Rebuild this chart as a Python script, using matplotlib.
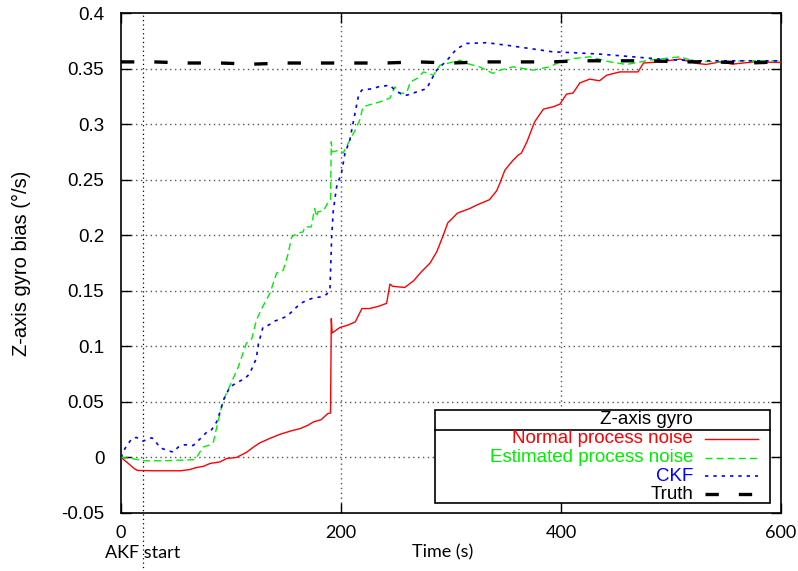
import numpy as np
import matplotlib
matplotlib.use("Agg")
import matplotlib.pyplot as plt
from matplotlib.patches import Rectangle

# --- data (time in s, bias in deg/s) ---
t_normal = [0, 5, 12, 15, 30, 54, 62, 69, 75, 81, 90, 96, 105, 114, 120, 126, 135,
            145, 155, 163, 170, 175, 182, 188, 190.5, 191.2, 192, 199, 206, 213, 219,
            226, 234, 241.5, 244.5, 247, 258, 266, 273, 281, 287, 293, 297, 306, 317,
            323, 335, 341.5, 344.5, 349, 356.5, 361, 364, 369, 376, 384, 393, 399, 405,
            411, 417, 426, 435, 441.5, 453.6, 470, 475, 490, 508, 523, 532, 544.5, 556,
            575, 600]
v_normal = [0, -0.004, -0.010, -0.0117, -0.012, -0.012, -0.011, -0.009, -0.008, -0.0054,
            -0.004, -0.001, 0.0, 0.0045, 0.009, 0.013, 0.017, 0.021, 0.024, 0.026, 0.029,
            0.032, 0.034, 0.0395, 0.040, 0.125, 0.112, 0.117, 0.119, 0.122, 0.134, 0.134,
            0.136, 0.1387, 0.156, 0.154, 0.153, 0.159, 0.167, 0.175, 0.185, 0.200, 0.211,
            0.220, 0.224, 0.227, 0.232, 0.240, 0.247, 0.2586, 0.2676, 0.272, 0.274, 0.284,
            0.302, 0.3135, 0.3156, 0.318, 0.327, 0.328, 0.337, 0.3405, 0.339, 0.344, 0.347,
            0.347, 0.355, 0.356, 0.3586, 0.3547, 0.3537, 0.356, 0.354, 0.356, 0.3555]

t_est = [0, 10, 20, 40, 67, 70, 74.5, 80, 84, 87, 93, 100.6, 106.6, 114, 119, 123, 128,
         135.5, 141.5, 147.5, 152, 155, 159.7, 165.5, 167, 173, 176, 178, 179, 184, 188.5,
         190.5, 191.2, 192, 199, 202, 208, 213, 217, 220, 228, 235.5, 244.5, 249, 254, 260,
         263, 269, 275, 284, 290, 298, 308, 314, 326, 338, 344.5, 356.5, 374.5, 390, 399,
         411, 426, 444.5, 459.7, 481, 508, 520, 541.5, 566, 600]
v_est = [0, -0.001, -0.003, -0.003, -0.002, 0.002, 0.0093, 0.011, 0.0138, 0.027, 0.0514,
         0.068, 0.0813, 0.1027, 0.107, 0.1234, 0.134, 0.148, 0.166, 0.1685, 0.1835, 0.198,
         0.2017, 0.203, 0.2075, 0.2075, 0.224, 0.2165, 0.221, 0.222, 0.230, 0.232, 0.284,
         0.275, 0.2766, 0.274, 0.2856, 0.2946, 0.3036, 0.3156, 0.318, 0.320, 0.3234, 0.3336,
         0.327, 0.329, 0.338, 0.341, 0.347, 0.344, 0.353, 0.355, 0.3576, 0.3547, 0.3516,
         0.3457, 0.3486, 0.3516, 0.3486, 0.3516, 0.356, 0.359, 0.3606, 0.356, 0.3537,
         0.3576, 0.3606, 0.357, 0.356, 0.357, 0.357]

t_ckf = [0, 3.6, 9.7, 14, 20, 28, 31, 35.5, 43, 47.5, 52, 58, 65.7, 72, 78, 82, 87, 90, 93,
         96, 99, 106.6, 112.7, 117, 123, 125, 129, 134, 140, 146, 150.6, 156.7, 159.7, 164,
         168.8, 174.8, 181, 187, 190, 191.5, 193, 196, 200.6, 203.6, 208, 212.7, 215.7,
         218.8, 229.4, 234, 244.5, 250.6, 259.7, 268.8, 278, 281, 287, 296, 305, 314, 332.5,
         350.6, 374.8, 393, 411, 435.5, 465.5, 496, 526, 556.6, 600]
v_ckf = [0, 0.008, 0.0168, 0.018, 0.0147, 0.0177, 0.015, 0.0087, 0.006, 0.0048, 0.0093,
         0.0114, 0.0108, 0.0168, 0.0228, 0.0243, 0.032, 0.0408, 0.0514, 0.0574, 0.0634,
         0.068, 0.071, 0.0754, 0.089, 0.1024, 0.117, 0.119, 0.1228, 0.125, 0.127, 0.1324,
         0.1354, 0.139, 0.1414, 0.1435, 0.1444, 0.1468, 0.152, 0.198, 0.222, 0.2435, 0.257,
         0.2736, 0.2856, 0.3096, 0.3246, 0.3306, 0.332, 0.3336, 0.335, 0.329, 0.326, 0.329,
         0.332, 0.338, 0.3486, 0.357, 0.3676, 0.3726, 0.3733, 0.371, 0.3676, 0.365, 0.3643,
         0.363, 0.3606, 0.358, 0.357, 0.357, 0.357]

t_truth = [0, 30, 60, 90, 120, 150, 180, 210, 240, 270, 300, 330, 360, 390, 420, 450, 480,
           510, 540, 570, 600]
v_truth = [0.356, 0.356, 0.355, 0.355, 0.354, 0.355, 0.355, 0.355, 0.355, 0.356, 0.355,
           0.356, 0.356, 0.356, 0.357, 0.357, 0.357, 0.356, 0.356, 0.355, 0.356]

akf_start = 20
x_ticks = [0, 200, 400, 600]
y_ticks = [-0.05, 0, 0.05, 0.1, 0.15, 0.2, 0.25, 0.3, 0.35, 0.4]
y_ticklabels = ["-0.05", "0", "0.05", "0.1", "0.15", "0.2", "0.25", "0.3", "0.35", "0.4"]

labels = ["Normal process noise", "Estimated process noise", "CKF", "Truth"]
colors = ["#ff0000", "#00ee00", "#0000ff", "#000000"]
styles = [dict(lw=1.0, ls="-"),
          dict(lw=1.0, ls=(0, (5, 3))),
          dict(lw=1.2, ls=(0, (2, 3))),
          dict(lw=2.4, ls=(0, (4, 6)))]

plt.rcParams['font.family'] = ['Liberation Sans', 'DejaVu Sans']

fig = plt.figure(figsize=(7.98, 5.71), dpi=100)
ax = fig.add_axes([0.1516, 0.1016, 0.8271, 0.8756])

series = [(t_normal, v_normal), (t_est, v_est), (t_ckf, v_ckf), (t_truth, v_truth)]
for (t, v), c, st in zip(series, colors, styles):
    ax.plot(t, v, color=c, **st, zorder=3)

ax.set_xlim(0, 600)
ax.set_ylim(-0.05, 0.4)

# grid, gnuplot style
for y in y_ticks[1:-1]:
    ax.axhline(y, color="#555555", lw=1.0, ls=(0, (1, 2.5)), zorder=1)
for x in x_ticks[1:-1]:
    ax.axvline(x, color="#555555", lw=1.0, ls=(0, (1, 2.5)), zorder=1)
# AKF start marker goes down through the label
ax.plot([akf_start, akf_start], [-0.1030, 0.4], color="#000000", lw=0.9,
        ls=(0, (1, 2.5)), clip_on=False, zorder=1)

ax.set_xticks(x_ticks)
ax.set_xticklabels([str(x) for x in x_ticks], family="Lato", fontsize=13)
ax.set_yticks(y_ticks)
ax.set_yticklabels(y_ticklabels, fontsize=13.5)
ax.tick_params(direction="in", length=7, width=1.0, top=True, right=True)
ax.tick_params(axis="y", pad=12)
ax.tick_params(axis="x", pad=9)
for s in ax.spines.values():
    s.set_linewidth(1.2)

ax.set_ylabel("Z-axis gyro bias (°/s)", fontsize=14.5, labelpad=22)
ax.text(0.487, -0.078, "Time (s)", transform=ax.transAxes, ha="center", va="center",
        family="Lato", fontsize=13)
ax.text(akf_start, -0.0862, "AKF start", ha="center", va="center", family="Lato",
        fontsize=13, clip_on=False)

# legend box drawn like gnuplot's titled key
x0, x1, y0, y1 = 0.476, 0.983, 0.020, 0.206
ax.add_patch(Rectangle((x0, y0), x1 - x0, y1 - y0, transform=ax.transAxes,
                       facecolor="white", edgecolor="black", lw=1.2, zorder=5))
ax.plot([x0, x1], [0.166, 0.166], transform=ax.transAxes, color="black", lw=1.2, zorder=6)
ax.text(0.867, 0.186, "Z-axis gyro", transform=ax.transAxes, ha="right", va="center",
        fontsize=13.5, zorder=6)
rows = [0.148, 0.110, 0.073, 0.037]
for yy, lab, c, st in zip(rows, labels, colors, styles):
    ax.text(0.867, yy, lab, transform=ax.transAxes, ha="right", va="center",
            fontsize=13.5, color=c, zorder=6)
    ax.plot([0.885, 0.965], [yy, yy], transform=ax.transAxes, color=c, **st, zorder=6)

fig.savefig("out.png", dpi=100)
